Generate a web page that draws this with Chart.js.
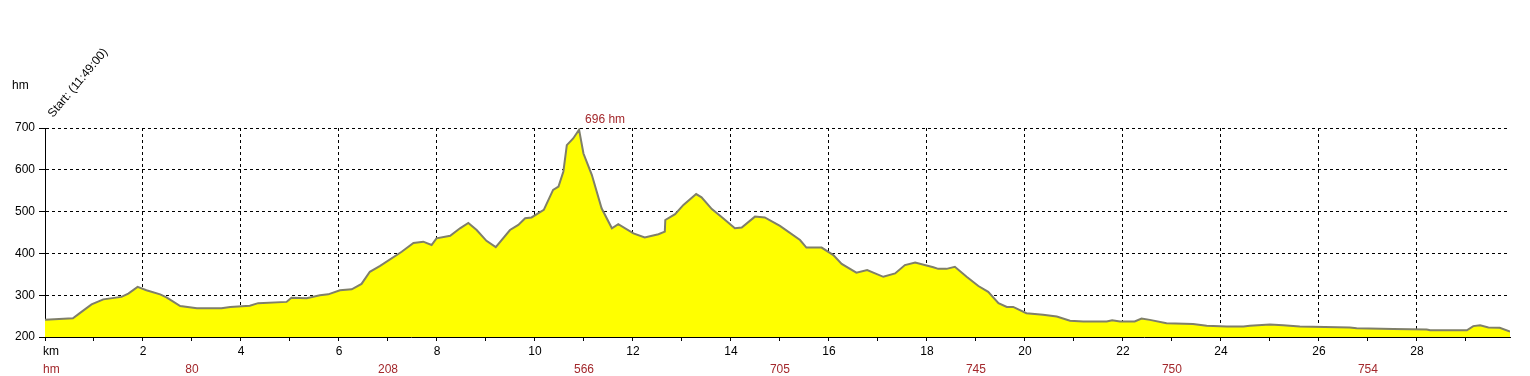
<!DOCTYPE html>
<html>
<head>
<meta charset="utf-8">
<script src="https://cdn.jsdelivr.net/npm/chart.js"></script>
<style>
  body { margin: 0; background: #ffffff; }
  canvas { display: block; }
</style>
</head>
<body>
<canvas id="profile" width="1530" height="376"></canvas>
<script>
// distance along the track (km) and altitude (hm)
const kmValues = [
  0.0, 0.57, 0.71, 0.95, 1.19, 1.56, 1.70, 1.89, 2.07, 2.35, 2.48, 2.76, 3.10, 3.60, 3.78,
  4.18, 4.35, 4.93, 5.03, 5.34, 5.61, 5.78, 6.02, 6.26, 6.46, 6.63, 6.84, 7.28, 7.52, 7.72,
  7.89, 7.99, 8.27, 8.47, 8.64, 8.81, 9.01, 9.20, 9.49, 9.66, 9.80, 9.93, 10.18, 10.37, 10.48,
  10.58, 10.65, 10.78, 10.90, 10.99, 11.16, 11.36, 11.57, 11.70, 12.01, 12.24, 12.52, 12.65, 12.66,
  12.86, 13.03, 13.29, 13.40, 13.61, 13.84, 14.08, 14.22, 14.49, 14.69, 15.00, 15.41, 15.54, 15.85,
  16.09, 16.26, 16.56, 16.78, 17.11, 17.35, 17.55, 17.76, 18.13, 18.23, 18.40, 18.57, 18.81, 19.05,
  19.25, 19.46, 19.63, 19.76, 20.03, 20.37, 20.65, 20.92, 21.19, 21.67, 21.78, 21.94, 22.24, 22.38,
  22.55, 22.89, 23.43, 23.71, 24.12, 24.46, 24.59, 25.00, 25.27, 25.61, 26.63, 26.77, 27.52, 28.20,
  28.27, 29.02, 29.15, 29.29, 29.46, 29.69, 29.90
];
const altitudes = [
  241, 245, 257, 278, 290, 296, 304, 320, 312, 302, 295, 274, 269, 269, 272,
  275, 281, 284, 294, 293, 300, 302, 312, 314, 327, 356, 370, 404, 425, 428,
  420, 436, 442, 460, 473, 456, 430, 415, 456, 468, 484, 486, 504, 552, 560,
  596, 659, 675, 696, 639, 588, 508, 460, 470, 448, 438, 446, 452, 480,
  494, 516, 542, 534, 506, 484, 460, 462, 488, 486, 466, 432, 414, 414,
  396, 375, 354, 360, 344, 352, 372, 378, 367, 363, 363, 368, 344, 322,
  308, 281, 272, 272, 257, 253, 249, 239, 237, 237, 240, 237, 237, 244,
  241, 233, 231, 227, 225, 225, 227, 230, 228, 225, 223, 221, 219, 218,
  216, 216, 226, 228, 223, 222, 213
];

// cumulative climb shown under the km axis
const climbKm = [3, 7, 11, 15, 19, 23, 27];
const climbLabels = ['80', '208', '566', '705', '745', '750', '754'];

const peakLabel = '696 hm';
const startLabel = 'Start: (11:49:00)';

const FONT = '"Liberation Sans", Arial, sans-serif';
const RED = '#a3282c';

const labelsPlugin = {
  id: 'profileLabels',
  afterDraw(chart) {
    const ctx = chart.ctx;
    const x = chart.scales.x;
    const y = chart.scales.y;
    const area = chart.chartArea;
    ctx.save();
    ctx.font = '12px ' + FONT;
    ctx.textBaseline = 'middle';

    // axis unit labels
    ctx.fillStyle = '#000';
    ctx.textAlign = 'left';
    ctx.fillText('hm', 12, 86);
    ctx.fillText('km', area.left - 2, 352);

    // climb row
    ctx.fillStyle = RED;
    ctx.fillText('hm', area.left - 2, 370);
    ctx.textAlign = 'center';
    climbKm.forEach((km, i) => {
      ctx.fillText(climbLabels[i], x.getPixelForValue(km), 370);
    });

    // highest point
    const top = altitudes.indexOf(Math.max(...altitudes));
    ctx.textAlign = 'left';
    ctx.textBaseline = 'alphabetic';
    ctx.fillText(peakLabel, x.getPixelForValue(kmValues[top]) + 6, y.top - 5);

    // start marker
    ctx.fillStyle = '#000';
    ctx.translate(x.getPixelForValue(0) + 8, y.top - 10);
    ctx.rotate(-50 * Math.PI / 180);
    ctx.fillText(startLabel, 0, 0);
    ctx.restore();
  }
};

new Chart(document.getElementById('profile'), {
  type: 'line',
  data: {
    datasets: [{
      data: kmValues.map((km, i) => ({ x: km, y: altitudes[i] })),
      borderColor: '#7f7f6a',
      borderWidth: 2,
      backgroundColor: '#ffff00',
      fill: 'start',
      tension: 0,
      pointRadius: 0
    }]
  },
  options: {
    responsive: false,
    animation: false,
    layout: { padding: { top: 128, right: 20, left: 0, bottom: 0 } },
    plugins: {
      legend: { display: false },
      tooltip: { enabled: false }
    },
    scales: {
      x: {
        type: 'linear',
        min: 0,
        max: 29.9,
        afterFit: s => { s.height = 39; },
        border: { color: '#000', width: 1, dash: [3, 3] },
        grid: {
          color: c => (c.tick && c.tick.value > 0 && c.tick.value % 2 === 0) ? '#000' : 'rgba(0,0,0,0)',
          tickColor: '#000',
          tickLength: 4,
          lineWidth: 1
        },
        ticks: {
          stepSize: 1,
          includeBounds: false,
          autoSkip: false,
          maxRotation: 0,
          color: '#000',
          padding: 3,
          font: { family: FONT, size: 12 },
          callback: v => (v > 0 && v % 2 === 0) ? String(v) : ''
        }
      },
      y: {
        min: 200,
        max: 700,
        afterFit: s => { s.width = 45; },
        border: { color: '#000', width: 1, dash: [3, 3] },
        grid: {
          color: c => (c.tick && c.tick.value > 200) ? '#000' : 'rgba(0,0,0,0)',
          tickColor: '#000',
          tickLength: 6,
          lineWidth: 1
        },
        ticks: {
          stepSize: 100,
          color: '#000',
          padding: 4,
          font: { family: FONT, size: 12 }
        }
      }
    }
  },
  plugins: [labelsPlugin]
});
</script>
</body>
</html>
